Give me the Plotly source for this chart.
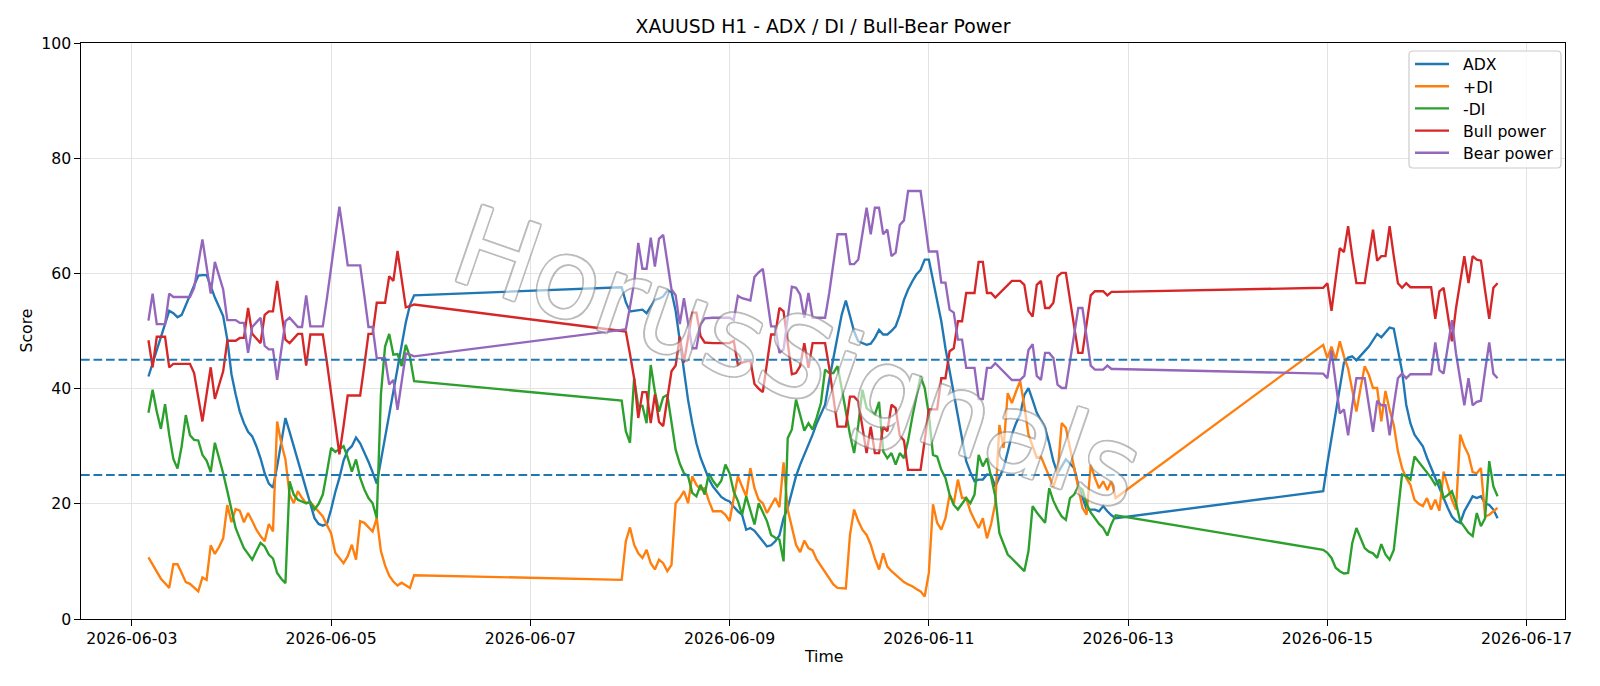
import pandas as pd
import plotly.graph_objects as go

# ---------------- data (hourly, three trading stretches) ----------------
SEG_STARTS = ["2026-06-03 04:00", "2026-06-07 22:00", "2026-06-14 23:00"]
SEG_LENGTHS = [65, 120, 43]

adx = [
    # stretch 1
    42.1, 44.4, 46.7, 49.0, 51.3, 53.5, 53.1, 52.4, 52.8, 54.5,
    56.3, 58.0, 59.6, 59.7, 59.7, 57.8, 55.8, 54.2, 52.6, 48.5,
    42.5, 39.0, 36.0, 34.0, 32.5, 31.7, 30.0, 27.9, 25.3, 23.5,
    22.8, 26.5, 31.0, 34.9, 32.5, 30.0, 27.5, 25.0, 22.5, 20.0,
    17.5, 16.5, 16.2, 16.5, 19.0, 22.0, 24.5, 27.5, 29.3, 30.0,
    31.5, 30.5, 29.0, 27.3, 25.5, 23.5, 27.5, 31.5, 35.5, 39.5,
    43.5, 47.5, 51.5, 54.5, 56.2,
    # stretch 2
    57.6, 55.0, 53.4, 53.5, 53.6, 53.7, 53.1, 54.3, 55.4, 55.6,
    56.0, 57.0, 56.8, 53.5, 48.0, 42.5, 38.0, 34.0, 30.5, 28.0,
    26.0, 24.3, 23.0, 22.0, 21.2, 20.7, 20.4, 19.5, 18.7, 18.1,
    15.5, 15.8, 15.3, 14.4, 13.5, 12.6, 12.8, 13.5, 14.5, 17.5,
    19.3, 22.0, 24.8, 26.8, 28.5, 30.3, 32.0, 34.0, 35.5, 37.2,
    41.5, 45.5, 49.5, 52.8, 55.3, 52.8, 49.9, 48.2, 47.9, 47.6,
    47.8, 48.8, 50.2, 49.4, 49.4, 50.0, 50.8, 52.8, 55.4, 57.2,
    58.6, 59.8, 60.6, 62.4, 62.4, 58.6, 54.9, 51.7, 47.0, 43.0,
    39.5, 35.5, 31.4, 27.4, 25.5, 23.9, 24.2, 24.2, 25.1, 25.0,
    23.0, 24.5, 26.2, 29.0, 32.0, 34.0, 35.5, 38.9, 40.1, 38.0,
    35.8, 34.5, 33.2, 30.5, 27.4, 25.3, 26.5, 27.7, 27.0, 26.2,
    23.3, 21.0, 19.0, 19.0, 19.0, 18.7, 19.6, 18.7, 18.0, 17.5,
    # stretch 3
    22.2, 27.0, 31.5, 36.0, 40.5, 44.5, 45.4, 45.6, 44.9, 45.8,
    46.5, 47.3, 48.4, 49.5, 48.9, 49.8, 50.6, 50.4, 47.0, 43.0,
    37.2, 34.0, 32.0, 31.0, 30.0, 28.0, 26.2, 24.5, 22.5, 21.0,
    19.3, 17.8, 17.0, 16.7, 18.7, 19.9, 21.3, 21.0, 21.3, 20.1,
    19.8, 19.0, 17.5,
]

plus_di = [
    # stretch 1
    10.7, 9.5, 8.2, 7.0, 6.2, 5.4, 9.5, 9.5, 8.0, 6.4,
    6.1, 5.5, 4.8, 7.2, 6.8, 12.8, 11.3, 12.5, 14.0, 19.8,
    16.8, 19.1, 18.8, 16.8, 18.4, 17.0, 15.5, 14.4, 13.5, 16.5,
    15.2, 34.3, 30.5, 27.7, 21.6, 20.1, 22.2, 21.0, 20.1, 20.3,
    19.5, 18.7, 17.8, 16.3, 14.9, 11.5, 10.5, 9.7, 10.9, 12.9,
    10.3, 17.0, 16.7, 16.0, 15.2, 17.5, 11.8, 9.3, 7.5, 6.5,
    5.8, 6.3, 5.9, 5.4, 7.6,
    # stretch 2
    6.8, 13.5, 15.9, 12.9, 11.4, 10.6, 12.0, 9.7, 8.6, 10.3,
    9.7, 8.3, 9.4, 20.1, 21.0, 22.2, 20.1, 24.8, 23.3, 22.5,
    22.7, 20.5, 18.7, 18.7, 18.7, 18.1, 17.0, 21.0, 24.8, 23.0,
    21.3, 26.2, 22.7, 20.7, 20.1, 18.4, 19.8, 21.0, 19.4, 27.2,
    19.0, 15.8, 12.9, 11.6, 13.6, 12.3, 11.9, 10.3, 9.2, 8.3,
    7.0, 6.0, 5.4, 5.3, 5.3, 14.6, 19.0, 17.0, 15.5, 14.6,
    12.9, 10.5, 8.6, 11.4, 9.1, 8.3, 7.7, 7.1, 6.4, 6.0,
    5.7, 5.2, 4.8, 3.9, 8.0, 19.9, 16.7, 15.5, 17.5, 21.6,
    20.0, 24.2, 21.0, 21.0, 18.7, 17.2, 15.8, 17.5, 14.0, 16.5,
    20.1, 33.7, 29.7, 39.2, 37.5, 39.5, 41.3, 37.0, 32.0, 30.0,
    28.0, 28.2, 26.5, 25.0, 23.0, 25.1, 34.0, 33.2, 29.7, 26.8,
    23.0, 19.3, 18.1, 26.8, 24.5, 22.7, 23.9, 22.4, 24.0, 21.0,
    # stretch 3
    47.6, 45.3, 47.3, 45.0, 48.2, 45.6, 43.5, 39.5, 36.0, 40.1,
    43.9, 42.4, 40.1, 40.1, 34.3, 39.6, 36.3, 33.7, 29.1, 26.2,
    24.5, 23.3, 20.7, 20.0, 19.6, 21.0, 19.0, 20.7, 18.8, 25.6,
    23.3, 20.7, 19.0, 32.0, 30.0, 28.5, 25.5, 25.3, 26.2, 17.8,
    18.1, 18.7, 19.3,
]

minus_di = [
    # stretch 1
    35.8, 39.8, 36.0, 33.0, 37.3, 32.0, 27.8, 26.1, 30.0, 35.4,
    31.9, 31.1, 31.0, 28.5, 27.5, 25.5, 30.6, 28.0, 25.3, 22.2,
    19.0, 15.8, 14.0, 12.3, 11.3, 10.3, 11.8, 13.2, 12.6, 11.2,
    10.5, 8.0, 7.0, 6.2, 23.9, 21.6, 20.7, 20.4, 20.1, 20.3,
    19.0, 20.0, 21.6, 25.5, 29.7, 29.0, 29.5, 30.0, 28.0, 25.6,
    27.7, 24.5, 22.5, 21.0, 20.1, 17.5, 39.0, 47.3, 49.5, 45.9,
    46.0, 43.9, 47.6, 45.5, 41.3,
    # stretch 2
    37.9, 32.6, 30.6, 41.8, 36.9, 37.0, 34.0, 44.1, 39.5, 36.0,
    38.5, 38.9, 34.5, 29.4, 27.0, 25.3, 24.8, 21.9, 21.3, 23.3,
    21.6, 25.3, 24.0, 23.0, 24.0, 26.8, 25.3, 22.1, 20.5, 18.1,
    21.3, 19.0, 16.4, 20.1, 18.5, 17.0, 14.6, 14.1, 13.8, 10.0,
    31.4, 32.9, 38.1, 35.5, 32.7, 34.0, 32.9, 35.0, 37.5, 43.3,
    42.7, 42.7, 43.9, 40.1, 36.0, 32.0, 28.8, 33.7, 39.8, 36.6,
    36.0, 35.5, 37.7, 29.1, 27.9, 28.8, 26.8, 28.8, 27.9, 31.0,
    35.0, 38.5, 42.1, 40.1, 35.5, 28.5, 28.2, 25.9, 24.5, 21.6,
    19.8, 19.0, 20.1, 21.0, 20.1, 21.6, 28.5, 26.5, 27.9, 24.8,
    21.3, 14.9, 13.0, 11.2, 10.5, 9.8, 9.0, 8.3, 11.8, 19.6,
    18.5, 17.5, 16.7, 22.7, 20.5, 19.0, 17.8, 17.2, 21.0, 21.6,
    23.0, 22.5, 20.0, 18.5, 17.5, 16.5, 15.8, 14.5, 16.5, 18.0,
    # stretch 3
    12.0, 11.5, 10.6, 8.9, 8.3, 7.9, 8.0, 13.2, 15.8, 14.0,
    12.3, 11.7, 11.4, 10.6, 13.0, 11.2, 10.3, 12.0, 18.7, 25.1,
    24.8, 24.2, 28.2, 27.3, 26.5, 25.5, 24.5, 23.3, 24.2, 21.0,
    21.5, 22.2, 20.1, 17.0, 16.0, 15.0, 14.4, 18.4, 16.1, 17.5,
    27.4, 23.0, 21.3,
]

bull_power = [
    # stretch 1
    48.4, 43.7, 49.0, 49.0, 49.0, 43.7, 44.3, 44.3, 44.3, 44.3,
    44.3, 42.7, 38.5, 34.3, 39.0, 43.7, 38.2, 40.5, 43.0, 48.3,
    48.3, 48.3, 48.8, 48.8, 54.0, 49.5, 48.7, 47.9, 52.8, 53.4,
    53.4, 58.7, 53.5, 48.5, 47.9, 48.7, 49.5, 49.5, 44.0, 49.4,
    49.4, 49.4, 49.4, 44.5, 39.5, 34.0, 28.6, 33.5, 38.8, 38.8,
    38.8, 38.8, 44.0, 49.5, 49.5, 54.9, 54.9, 54.9, 59.5, 58.7,
    63.9, 59.0, 54.1, 54.3, 54.6,
    # stretch 2
    50.0, 49.9, 46.0, 41.8, 34.9, 39.4, 39.4, 34.0, 39.0, 34.2,
    33.5, 38.0, 43.0, 44.0, 49.0, 44.5, 49.0, 53.2, 53.2, 49.1,
    48.0, 47.9, 47.9, 47.9, 47.9, 47.9, 47.9, 48.3, 44.1, 44.5,
    44.7, 44.9, 40.8, 40.0, 39.4, 44.5, 49.4, 49.4, 54.0, 53.4,
    48.0, 42.5, 42.7, 43.9, 47.9, 43.6, 47.9, 47.9, 47.9, 47.9,
    43.6, 38.5, 33.4, 33.4, 33.4, 38.6, 38.6, 37.8, 33.5, 28.8,
    33.4, 28.8, 28.8, 33.4, 32.6, 37.2, 36.6, 31.8, 31.0, 25.9,
    25.9, 25.9, 25.9, 31.0, 36.4, 36.4, 36.4, 41.8, 41.8, 46.5,
    47.0, 51.7, 51.7, 56.6, 56.6, 56.6, 62.0, 62.0, 56.6, 56.6,
    55.8, 56.5, 57.3, 58.0, 58.7, 58.7, 58.7, 58.0, 53.5, 52.5,
    58.0, 58.7, 54.0, 54.0, 54.9, 59.5, 60.1, 60.1, 55.5, 50.5,
    46.2, 46.2, 51.0, 56.2, 56.9, 56.9, 56.9, 56.2, 56.8, 56.8,
    # stretch 3
    57.5, 58.3, 53.5, 59.0, 64.4, 63.7, 68.2, 63.0, 58.3, 58.3,
    58.3, 63.0, 67.6, 62.2, 63.0, 63.0, 68.2, 63.0, 58.3, 57.5,
    58.3, 57.6, 57.6, 57.6, 57.6, 57.6, 57.6, 52.1, 56.9, 57.5,
    53.0, 48.2, 54.0, 58.5, 63.0, 58.3, 63.0, 62.4, 62.2, 57.0,
    52.1, 57.5, 58.3,
]

bear_power = [
    # stretch 1
    51.8, 56.5, 51.2, 51.2, 51.2, 56.5, 55.9, 55.9, 55.9, 55.9,
    55.9, 57.5, 61.7, 65.9, 61.2, 56.5, 62.0, 59.7, 57.2, 51.9,
    51.9, 51.9, 51.4, 51.4, 46.2, 50.7, 51.5, 52.3, 47.4, 46.8,
    46.8, 41.5, 46.7, 51.7, 52.3, 51.5, 50.7, 50.7, 56.2, 50.8,
    50.8, 50.8, 50.8, 55.7, 60.7, 66.2, 71.6, 66.7, 61.4, 61.4,
    61.4, 61.4, 56.2, 50.7, 50.7, 45.3, 45.3, 45.3, 40.7, 41.5,
    36.3, 41.2, 46.1, 45.9, 45.6,
    # stretch 2
    50.2, 50.3, 54.2, 58.4, 65.3, 60.8, 60.8, 66.2, 61.2, 66.0,
    66.7, 62.2, 57.2, 56.2, 51.2, 55.7, 51.2, 47.0, 47.0, 51.1,
    52.2, 52.3, 52.3, 52.3, 52.3, 52.3, 52.3, 51.9, 56.1, 55.7,
    55.5, 55.3, 59.4, 60.2, 60.8, 55.7, 50.8, 50.8, 46.2, 46.8,
    52.2, 57.7, 57.5, 56.3, 52.3, 56.6, 52.3, 52.3, 52.3, 52.3,
    56.6, 61.7, 66.8, 66.8, 66.8, 61.6, 61.6, 62.4, 66.7, 71.4,
    66.8, 71.4, 71.4, 66.8, 67.6, 63.0, 63.6, 68.4, 69.2, 74.3,
    74.3, 74.3, 74.3, 69.2, 63.8, 63.8, 63.8, 58.4, 58.4, 53.7,
    53.2, 48.5, 48.5, 43.6, 43.6, 43.6, 38.2, 38.2, 43.6, 43.6,
    44.4, 43.7, 42.9, 42.2, 41.5, 41.5, 41.5, 42.2, 46.7, 47.7,
    42.2, 41.5, 46.2, 46.2, 45.3, 40.7, 40.1, 40.1, 44.7, 49.7,
    54.0, 54.0, 49.2, 44.0, 43.3, 43.3, 43.3, 44.0, 43.4, 43.4,
    # stretch 3
    42.6, 41.8, 46.6, 41.1, 35.7, 36.4, 31.9, 37.1, 41.8, 41.8,
    41.8, 37.1, 32.5, 37.9, 37.1, 37.1, 31.9, 37.1, 41.8, 42.6,
    41.8, 42.5, 42.5, 42.5, 42.5, 42.5, 42.5, 48.0, 43.2, 42.6,
    47.1, 51.9, 46.1, 41.6, 37.1, 41.8, 37.1, 37.7, 37.9, 43.1,
    48.0, 42.6, 41.8,
]

THRESHOLDS = [25, 45]
X_TICKS = ["2026-06-03", "2026-06-05", "2026-06-07", "2026-06-09",
           "2026-06-11", "2026-06-13", "2026-06-15", "2026-06-17"]
Y_TICKS = [0, 20, 40, 60, 80, 100]
WATERMARK = "HorusSignals"

# ---------------- build ----------------
times = pd.DatetimeIndex([])
for start, n in zip(SEG_STARTS, SEG_LENGTHS):
    times = times.append(pd.date_range(start, periods=n, freq="h"))

W, H = 1600, 686
ML, MR, MT, MB = 81, 35, 43, 67
PW, PH = W - ML - MR, H - MT - MB


def px_x(X):
    return (X - ML) / PW


def px_y(Y):
    return (H - MB - Y) / PH


FONT = "DejaVu Sans, Liberation Sans, sans-serif"
LW = 2.36
series = [
    ("ADX", adx, "#1f77b4"),
    ("+DI", plus_di, "#ff7f0e"),
    ("-DI", minus_di, "#2ca02c"),
    ("Bull power", bull_power, "#d62728"),
    ("Bear power", bear_power, "#9467bd"),
]

fig = go.Figure()
for name, vals, col in series:
    fig.add_trace(go.Scatter(x=times, y=vals, mode="lines", name=name,
                             line=dict(color=col, width=LW), showlegend=False))

for th in THRESHOLDS:
    fig.add_shape(type="line", xref="paper", x0=0, x1=1, yref="y", y0=th, y1=th,
                  line=dict(color="#1f77b4", width=1.9, dash="8.7px,3.8px"),
                  layer="above")

axis_common = dict(
    showgrid=True, gridcolor="#e3e3e3", gridwidth=1.2,
    showline=True, linecolor="black", linewidth=1.25, mirror=True,
    ticks="outside", ticklen=5.5, tickwidth=1.25, tickcolor="black",
    tickfont=dict(family=FONT, size=15.7, color="black"),
    zeroline=False,
)

fig.update_layout(
    width=W, height=H,
    margin=dict(l=ML, r=MR, t=MT, b=MB, pad=0),
    paper_bgcolor="white", plot_bgcolor="white",
    font=dict(family=FONT, size=15.7, color="black"),
    title=dict(text="XAUUSD H1 - ADX / DI / Bull-Bear Power",
               font=dict(family=FONT, size=18.8, color="black"),
               x=0.5, xref="paper", xanchor="center",
               y=1 - 26 / H, yref="container", yanchor="middle"),
    xaxis=dict(type="date", range=["2026-06-02 11:45", "2026-06-17 09:15"],
               tickvals=X_TICKS, ticktext=X_TICKS, **axis_common),
    yaxis=dict(range=[0, 100], tickvals=Y_TICKS, **axis_common),
    showlegend=False,
)

fig.add_annotation(text="Time", xref="paper", yref="paper", x=0.5, y=px_y(656),
                   showarrow=False, yanchor="middle",
                   font=dict(family=FONT, size=15.7, color="black"))
fig.add_annotation(text="Score", xref="paper", yref="paper", x=px_x(25.5), y=0.5,
                   showarrow=False, textangle=-90, xanchor="center",
                   font=dict(family=FONT, size=15.7, color="black"))

# watermark: hollow grey outline, translucent white fill
sh = "#8c8c8c"
d1, d2 = 1.3, 1.8
fig.add_annotation(text=WATERMARK, xref="paper", yref="paper",
                   x=px_x(797), y=px_y(358), showarrow=False, textangle=19,
                   opacity=0.58,
                   font=dict(family=FONT, size=110, color="white",
                             shadow=(f"-{d1}px -{d1}px 0 {sh}, {d1}px -{d1}px 0 {sh}, "
                                     f"-{d1}px {d1}px 0 {sh}, {d1}px {d1}px 0 {sh}, "
                                     f"0 -{d2}px 0 {sh}, 0 {d2}px 0 {sh}, "
                                     f"-{d2}px 0 0 {sh}, {d2}px 0 0 {sh}")))

# legend (drawn by hand to match the frame geometry)
LX0, LX1, LY0, LY1, R = 1409, 1561, 51, 168, 4
rx, ry = R / PW, R / PH
x0, x1, y0, y1 = px_x(LX0), px_x(LX1), px_y(LY0), px_y(LY1)
path = (f"M{x0 + rx},{y0} L{x1 - rx},{y0} Q{x1},{y0} {x1},{y0 - ry} "
        f"L{x1},{y1 + ry} Q{x1},{y1} {x1 - rx},{y1} L{x0 + rx},{y1} "
        f"Q{x0},{y1} {x0},{y1 + ry} L{x0},{y0 - ry} Q{x0},{y0} {x0 + rx},{y0} Z")
fig.add_shape(type="path", path=path, xref="paper", yref="paper",
              fillcolor="rgba(255,255,255,0.8)", line=dict(color="#cccccc", width=1.2),
              layer="above")
for k, (name, vals, col) in enumerate(series):
    yy = 64 + 22.2 * k
    fig.add_shape(type="line", xref="paper", yref="paper",
                  x0=px_x(1415), x1=px_x(1449), y0=px_y(yy), y1=px_y(yy),
                  line=dict(color=col, width=LW), layer="above")
    fig.add_annotation(text=name, xref="paper", yref="paper",
                       x=px_x(1460.5), y=px_y(yy + 1), xanchor="left", yanchor="middle",
                       showarrow=False,
                       font=dict(family=FONT, size=15.7, color="black"))

fig.write_html("out.html")
